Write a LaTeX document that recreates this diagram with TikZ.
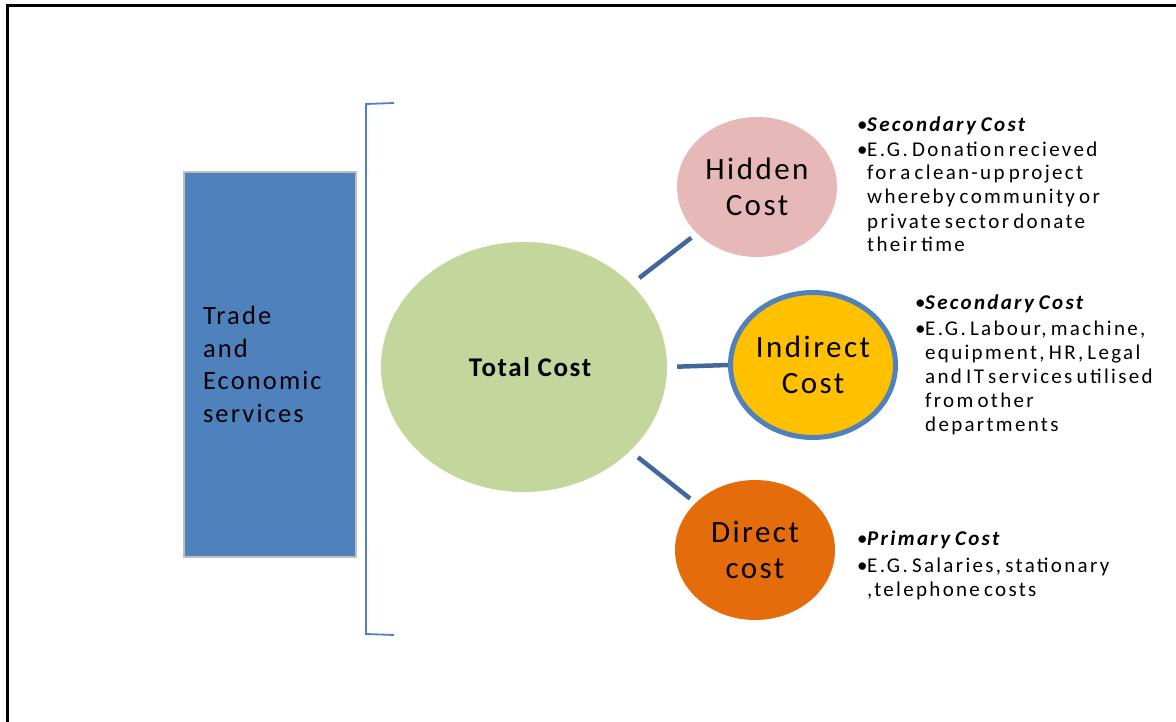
\documentclass[tikz,border=0pt]{standalone}
\usepackage{fontspec}
\setmainfont{Carlito}
\newfontfamily\spcd{Carlito}[LetterSpace=11,WordSpace=0.6]
\newfontfamily\spbig{Carlito}[LetterSpace=8]
\newfontfamily\sptot{Carlito}[LetterSpace=6]
\usetikzlibrary{shapes.geometric}
\definecolor{rectblue}{RGB}{79,129,189}
\definecolor{rectedge}{RGB}{191,191,191}
\definecolor{tgreen}{RGB}{195,214,155}
\definecolor{hpink}{RGB}{230,185,184}
\definecolor{iyellow}{RGB}{255,192,0}
\definecolor{dorange}{RGB}{228,108,10}
\definecolor{conn}{RGB}{65,104,156}
\newcommand\bul{\makebox[10pt][l]{\textbullet}}
\newcommand\ind{\hspace*{10pt}}
\newcommand\head[1]{\textbf{\textit{#1}}}
\tikzset{
  blob/.style={ellipse, inner sep=0pt, align=center, text=black},
  bigtxt/.style={font=\spbig\fontsize{31}{35.5}\selectfont},
  bullets/.style={anchor=base west, inner sep=0pt, align=left, font=\spcd\fontsize{21}{24}\selectfont},
  link/.style={draw=conn, line width=4.5pt},
}
\begin{document}
\begin{tikzpicture}[x=1pt,y=-1pt]
\useasboundingbox (0,0) rectangle (1176,722);
% frame
\draw[line width=3pt] (7,722) -- (7,6) -- (1176,6);
% left box
\node[draw=rectedge, line width=2pt, fill=rectblue, minimum width=172pt, minimum height=385pt,
      text width=134pt, align=left, inner sep=0pt, font=\spbig\fontsize{26.5}{32.5}\selectfont]
      (trade) at (270,364.5) {Trade\\and\\Economic\\services};
% bracket
\coordinate (bt) at (394,103);
\coordinate (bb) at (394,635);
\draw[rectblue, line width=1.8pt] (bt) -- (366,104) -- (366,634) -- (bb);
% ellipses
\node[blob, fill=tgreen, minimum width=286pt, minimum height=250pt,
      font=\sptot\fontsize{27}{32}\selectfont\bfseries] (total) at (524,367) {\hspace*{12pt}Total Cost};
\node[blob, fill=hpink, minimum width=160pt, minimum height=140pt, bigtxt] (hidden) at (757,187) {Hidden\\Cost};
\node[blob, fill=iyellow, draw=rectblue, line width=5pt, minimum width=165pt, minimum height=145pt, bigtxt] (indirect) at (813,365) {Indirect\\Cost};
\node[blob, fill=dorange, minimum width=160pt, minimum height=140pt, bigtxt] (direct) at (755,550) {Direct\\cost};
% connectors
\draw[link, shorten <=10pt, shorten >=7pt] (total) -- (hidden);
\draw[link, shorten <=10pt] (total.east) -- (indirect.west);
\draw[link, shorten <=10pt, shorten >=7pt] (total) -- (direct);
% bullet texts (anchor = baseline of last line)
\node[bullets] (hnote) at (857,252) {\bul\head{Secondary\hspace{5pt}Cost}\\[0.5pt]
  \bul E.G. Donation recieved\\\ind for a clean-up project\\\ind whereby community or\\\ind private sector donate\\\ind their time};
\node[bullets] (inote) at (915,431) {\bul\head{Secondary\hspace{5pt}Cost}\\[2pt]
  \bul E.G. Labour, machine,\\\ind equipment, HR, Legal\\\ind and IT services utilised\\\ind from other\\\ind departments};
\node[bullets] (dnote) at (857,596) {\bul\head{Primary\hspace{5pt}Cost}\\[3pt]
  \bul E.G. Salaries, stationary\\\ind ,telephone costs};
\end{tikzpicture}
\end{document}
